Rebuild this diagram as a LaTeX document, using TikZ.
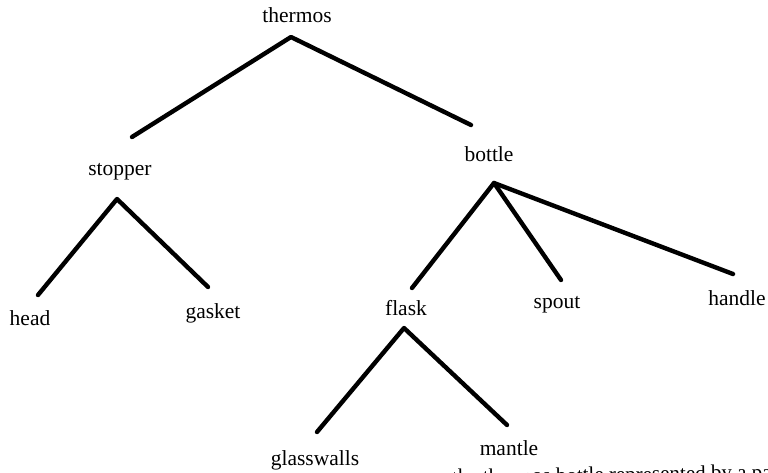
\documentclass[tikz,border=0pt]{standalone}
\usepackage{fontspec}
\setmainfont{Liberation Serif}
\begin{document}
\begin{tikzpicture}[x=1pt,y=-1pt,
  lbl/.style={inner sep=0pt,anchor=base,font=\fontsize{21.5}{24}\selectfont},
  edge/.style={line width=4.4pt,line cap=round,line join=round}]
\useasboundingbox (0,0) rectangle (768,472);
\clip (0,0) rectangle (768,472);
% labels (positioned by baseline)
\node[lbl] (thermos) at (297,22) {thermos};
\node[lbl] (stopper) at (120,175) {stopper};
\node[lbl] (bottle) at (489,161) {bottle};
\node[lbl] (head) at (30,325) {head};
\node[lbl] (gasket) at (213,318) {gasket};
\node[lbl] (flask) at (406,315) {flask};
\node[lbl] (spout) at (557,308) {spout};
\node[lbl] (handle) at (737,305) {handle};
\node[lbl] (glasswalls) at (315,465) {glasswalls};
\node[lbl] (mantle) at (509,455) {mantle};
\node[lbl,anchor=base west,font=\fontsize{21}{24}\selectfont,rotate=0.9] (caption) at (452,484) {the thermos bottle represented by a part};
% connector end points
\coordinate (tA) at (291,37);
\coordinate (tL) at (132,137);
\coordinate (tR) at (471,125);
\coordinate (sA) at (117,199);
\coordinate (sL) at (38,295);
\coordinate (sR) at (208,287);
\coordinate (bA) at (494,183);
\coordinate (bF) at (412,288);
\coordinate (bS) at (561,280);
\coordinate (bH) at (733,274);
\coordinate (fA) at (404,328);
\coordinate (fL) at (317,432);
\coordinate (fR) at (507,425);
% connectors
\draw[edge] (tL) -- (tA) -- (tR);
\draw[edge] (sL) -- (sA) -- (sR);
\draw[edge] (bF) -- (bA) -- (bS);
\draw[edge] (bA) -- (bH);
\draw[edge] (fL) -- (fA) -- (fR);
\end{tikzpicture}
\end{document}
